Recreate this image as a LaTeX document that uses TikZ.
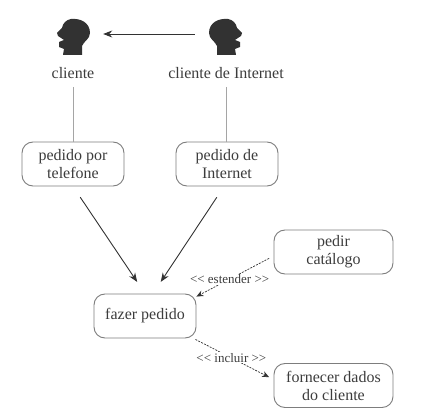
\documentclass[tikz,border=0pt]{standalone}
\usepackage{fontspec}
\setmainfont{Liberation Serif}
\usetikzlibrary{arrows.meta, positioning, calc}
\definecolor{boxgray}{RGB}{125,125,125}
\definecolor{linegray}{RGB}{165,165,165}
\definecolor{headdark}{RGB}{50,50,50}
\definecolor{textgray}{RGB}{60,60,60}

\begin{document}
\begin{tikzpicture}[
  x=1pt, y=-1pt,
  usecase/.style={rectangle, rounded corners=11pt, draw=boxgray, line width=0.9pt,
                  minimum height=44pt, align=center, text=textgray,
                  font=\fontsize{16}{18}\selectfont, inner sep=0pt},
  actor/.style={text=textgray, font=\fontsize{16}{18}\selectfont, inner sep=1pt},
  headspot/.style={minimum width=34pt, minimum height=36pt, inner sep=0pt},
  stereo/.style={text=textgray, font=\fontsize{13}{15}\selectfont, fill=white, inner sep=1pt},
  arr/.style={-{Stealth[length=9pt,width=7pt]}, line width=0.9pt, draw=headdark},
  dep/.style={-{Stealth[length=7pt,width=6pt]}, dash pattern=on 2pt off 1.2pt, line width=0.7pt, draw=headdark},
  assoc/.style={draw=linegray, line width=1pt},
  head/.pic={
    \fill[headdark] (-2,-18) .. controls (8,-19) and (17,-14) .. (17,-4)
      .. controls (17,2) and (11,4) .. (9,9) -- (9,18) -- (-10,18)
      -- (-9,12) -- (-14,10) -- (-14,5) -- (-9,3) -- (-15,-1) -- (-16,-4)
      -- (-11,-9) .. controls (-10,-14) and (-7,-17) .. (-2,-18) -- cycle;
  }
]
\useasboundingbox (0,0) rectangle (424,417);

%% Actors
\node[headspot] (headA) at (73,34) {};
\node[headspot] (headB) at (226,34) {};
\pic[yshift=-3pt] at (headA) {head};
\pic[yshift=-3pt, xscale=-1] at (headB) {head};
\node[actor] (cliente) at (73,73) {cliente};
\node[actor] (clienteWeb) at (226,73) {cliente de Internet};
\draw[arr, shorten <=14pt, shorten >=13pt] (headB) -- (headA);

%% Use cases
\node[usecase, minimum width=102pt] (telefone) at (73,164) {pedido por\\telefone};
\node[usecase, minimum width=102pt] (internet) at (227,164) {pedido de\\Internet};
\node[usecase, minimum width=102pt] (fazer) at (145,316) {fazer pedido};
\node[usecase, minimum width=119pt] (catalogo) at (333.5,252) {pedir\\catálogo};
\node[usecase, minimum width=119pt] (dados) at (333.5,385.5) {fornecer dados\\do cliente};

\draw[assoc, shorten <=7pt] (cliente.south) -- (cliente.south |- telefone.north);
\draw[assoc, shorten <=7pt] (clienteWeb.south) -- (clienteWeb.south |- internet.north);

\draw[arr, shorten <=13pt, shorten >=14pt] (telefone.south) -- (fazer.north);
\draw[arr, shorten <=13pt, shorten >=14pt] ($(internet.south)+(-3,0)$) -- ($(fazer.north)+(8,0)$);

%% Dependencies
\draw[dep, shorten <=5pt] ($(catalogo.west)+(0,4)$) -- node[stereo, pos=0.57] (estender) {<{}< estender >{}>} ($(fazer.north east)+(0,3)$);
\draw[dep, shorten >=5pt] ($(fazer.south east)+(-1,1)$) -- node[stereo, pos=0.46] (incluir) {<{}< incluir >{}>} ($(dados.west)+(0,-6)$);
\end{tikzpicture}
\end{document}
